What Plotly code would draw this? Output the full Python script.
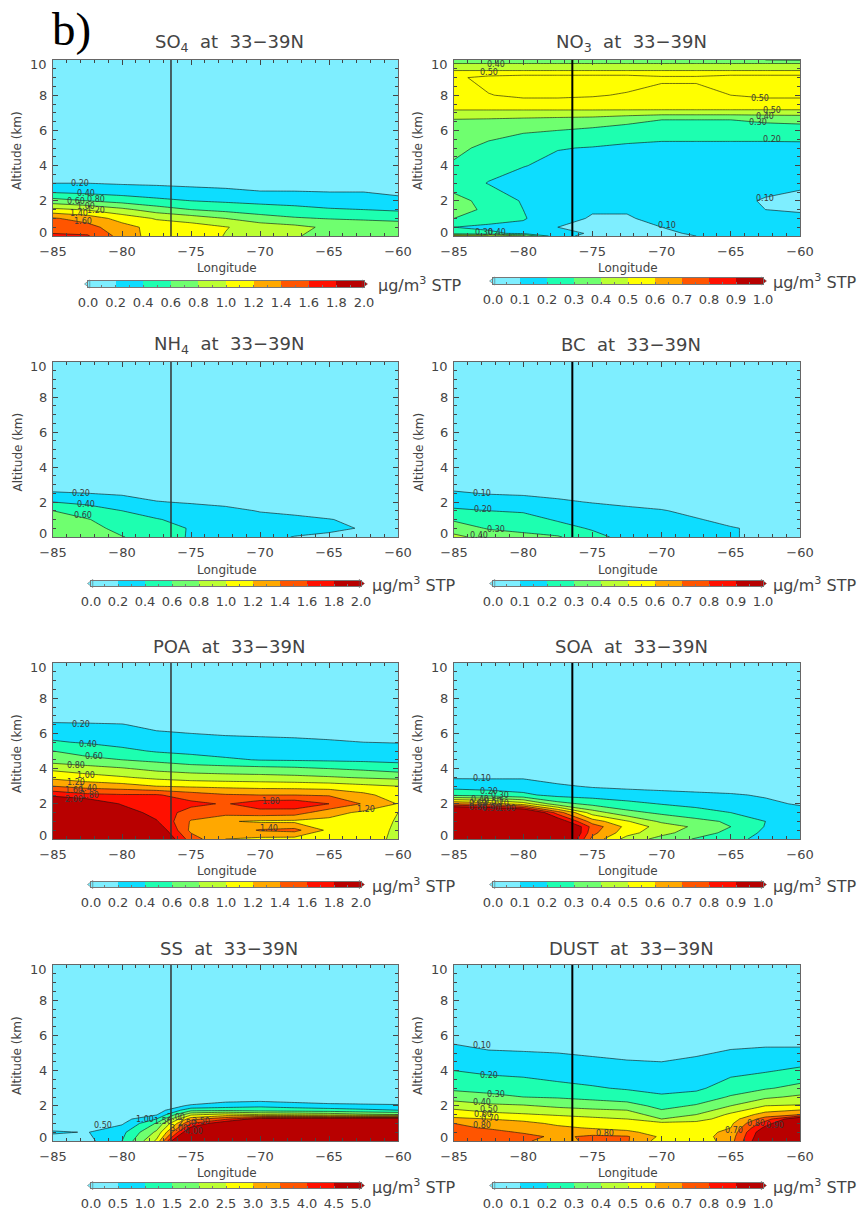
import plotly.graph_objects as go

W, H = 861, 1215
LON = [-85, -82.5, -80, -77.5, -75, -72.5, -70, -67.5, -65, -62.5, -60]
LON_MARK = [-76.45, -76.45]
ALT_MARK = [0, 10]
COLORS = ["#7EEEFF", "#0DDDFF", "#1DFFB0", "#6FFF6F", "#BBFF33", "#FFFF00",
          "#FFA800", "#FF5500", "#FF1000", "#B80000"]
SPECIES = ["SO<sub>4</sub>", "NO<sub>3</sub>", "NH<sub>4</sub>", "BC", "POA", "SOA", "SS", "DUST"]
MAXES = [2.0, 1.0, 2.0, 1.0, 2.0, 1.0, 5.0, 1.0]

SO4_Z = [0, .5, 1, 1.5, 2, 2.5, 3, 3.5, 4, 10]
SO4 = [
 [1.64, 1.62, 1.32, 1.10, 1.12, .99, .91, .81, .76, .72, .68],
 [1.50, 1.47, 1.28, 1.12, 1.10, 1.01, .92, .86, .76, .73, .70],
 [1.42, 1.32, 1.12, .98, .90, .80, .68, .62, .59, .57, .55],
 [1.05, .98, .85, .70, .60, .54, .50, .47, .42, .40, .37],
 [.68, .60, .52, .45, .40, .37, .34, .31, .29, .27, .24],
 [.38, .35, .32, .29, .27, .25, .21, .21, .20, .20, .17],
 [.20, .20, .18, .17, .15, .13, .12, .11, .10, .08, .07],
 [.08, .08, .07, .06, .05, .05, .04, .04, .03, .03, .02],
 [.02, .02, .02, .02, .02, .01, .01, .01, .01, .01, .01],
 [0, 0, 0, 0, 0, 0, 0, 0, 0, 0, 0],
]
SO4_LABELS = [(-83.07, 2.96, "0.20"), (-82.6, 2.43, "0.40"), (-81.9, 2.1, "0.80"), (-83.3, 1.95, "0.60"),
              (-82.6, 1.67, "1.00"), (-81.9, 1.44, "1.20"), (-83.1, 1.29, "1.40"), (-82.8, .82, "1.60")]

NO3_Z = [0, .15, .5, 1, 1.5, 2, 3, 4, 5, 6, 6.6, 7, 7.2, 8, 9, 9.4, 9.8, 10]
NO3 = [
 [.55, .50, .42, .12, .08, .08, .09, .10, .12, .12, .12],
 [.25, .22, .18, .13, .09, .08, .085, .11, .12, .12, .12],
 [.20, .18, .17, .10, .085, .085, .10, .12, .12, .12, .12],
 [.30, .24, .21, .12, .095, .095, .115, .13, .125, .115, .11],
 [.34, .28, .20, .13, .105, .105, .12, .13, .115, .10, .095],
 [.33, .27, .19, .14, .125, .12, .125, .125, .115, .095, .085],
 [.26, .195, .15, .14, .135, .13, .13, .13, .13, .12, .11],
 [.29, .24, .205, .17, .15, .14, .14, .14, .14, .14, .14],
 [.32, .28, .25, .205, .195, .18, .17, .17, .17, .17, .17],
 [.36, .33, .31, .30, .28, .26, .25, .25, .25, .25, .255],
 [.395, .39, .38, .37, .36, .33, .30, .30, .30, .32, .33],
 [.46, .46, .46, .46, .46, .45, .44, .44, .44, .44, .44],
 [.51, .51, .51, .51, .51, .51, .51, .51, .51, .51, .51],
 [.535, .548, .56, .56, .555, .545, .53, .53, .55, .56, .56],
 [.54, .565, .575, .575, .575, .575, .56, .56, .575, .575, .575],
 [.50, .50, .50, .50, .50, .50, .50, .50, .50, .50, .50],
 [.40, .40, .40, .40, .40, .40, .40, .40, .40, .40, .40],
 [.34, .34, .34, .34, .34, .34, .34, .33, .32, .30, .29],
]
NO3_EXTRA_LEVEL = .55
NO3_LABELS = [(-82, 9.73, "0.40"), (-82.5, 9.3, "0.50"), (-62.9, 7.8, "0.50"), (-62, 7.13, "0.50"),
              (-62.5, 6.8, "0.40"), (-63, 6.45, "0.30"), (-62, 5.47, "0.20"), (-62.5, 2.14, "0.10"),
              (-69.6, .57, "0.10"), (-82.8, .2, "0.30"), (-81.9, .2, "0.40")]

NH4_Z = [0, .5, 1, 1.5, 2, 2.5, 3, 4, 10]
NH4 = [
 [.68, .66, .61, .50, .38, .30, .24, .195, .17, .15, .13],
 [.72, .68, .53, .46, .39, .31, .27, .25, .23, .19, .15],
 [.68, .61, .50, .41, .35, .30, .26, .23, .205, .17, .13],
 [.60, .50, .40, .33, .29, .25, .19, .17, .14, .11, .09],
 [.40, .35, .30, .21, .18, .15, .12, .10, .08, .06, .05],
 [.22, .20, .17, .12, .10, .08, .06, .05, .04, .03, .02],
 [.10, .09, .08, .06, .05, .04, .03, .02, .02, .01, .01],
 [.03, .03, .02, .02, .01, .01, .01, .01, .01, .01, .01],
 [0, 0, 0, 0, 0, 0, 0, 0, 0, 0, 0],
]
NH4_LABELS = [(-83, 2.5, "0.20"), (-82.6, 1.84, "0.40"), (-82.8, 1.21, "0.60")]

BC_Z = [0, .5, 1, 1.5, 2, 2.5, 3, 4, 10]
BC = [
 [.42, .37, .34, .31, .23, .17, .15, .13, .105, .085, .07],
 [.36, .29, .26, .235, .19, .16, .14, .125, .105, .085, .07],
 [.285, .26, .235, .19, .165, .14, .125, .105, .08, .06, .05],
 [.22, .20, .19, .16, .14, .12, .105, .08, .06, .045, .035],
 [.15, .14, .13, .115, .095, .08, .07, .05, .035, .03, .02],
 [.11, .095, .09, .075, .06, .05, .04, .03, .02, .015, .01],
 [.07, .05, .04, .03, .03, .02, .02, .01, .01, .01, .01],
 [.02, .02, .01, .01, .01, .01, .01, .01, 0, 0, 0],
 [0, 0, 0, 0, 0, 0, 0, 0, 0, 0, 0],
]
BC_LABELS = [(-83, 2.47, "0.10"), (-82.9, 1.56, "0.20"), (-82, .42, "0.30"), (-83.2, .08, "0.40")]

POA_Z = [0, .5, 1, 1.5, 2, 2.5, 3, 3.5, 4, 4.5, 5, 5.5, 6, 6.5, 7, 10]
POA = [
 [2.3, 2.3, 2.2, 2.15, 1.5, 1.2, 1.15, 1.13, 1.12, 1.1, .95],
 [2.3, 2.3, 2.2, 2.0, 1.35, 1.25, 1.42, 1.46, 1.15, 1.12, .96],
 [2.3, 2.25, 2.1, 1.82, 1.38, 1.22, 1.17, 1.16, 1.15, 1.12, .98],
 [2.25, 2.1, 1.92, 1.72, 1.52, 1.48, 1.52, 1.5, 1.27, 1.16, 1.0],
 [2.1, 2.0, 1.78, 1.7, 1.65, 1.58, 1.72, 1.74, 1.6, 1.38, 1.19],
 [1.75, 1.65, 1.62, 1.62, 1.5, 1.42, 1.4, 1.4, 1.38, 1.25, 1.1],
 [1.4, 1.32, 1.28, 1.2, 1.17, 1.15, 1.13, 1.12, 1.1, 1.05, 1.0],
 [1.15, 1.08, 1.02, .95, .9, .88, .87, .85, .82, .78, .75],
 [.95, .88, .82, .74, .70, .68, .66, .64, .60, .56, .50],
 [.70, .65, .60, .55, .48, .43, .39, .38, .37, .36, .35],
 [.60, .52, .45, .38, .35, .32, .31, .31, .31, .30, .29],
 [.42, .38, .33, .30, .27, .26, .25, .24, .22, .20, .19],
 [.33, .31, .28, .23, .20, .18, .17, .16, .15, .14, .13],
 [.23, .22, .21, .13, .10, .09, .08, .07, .06, .06, .05],
 [.10, .10, .08, .05, .04, .03, .03, .02, .02, .02, .02],
 [0, 0, 0, 0, 0, 0, 0, 0, 0, 0, 0],
]
POA_LABELS = [(-83, 6.53, "0.20"), (-82.5, 5.39, "0.40"), (-82.05, 4.69, "0.60"), (-83.3, 4.16, "0.80"),
              (-82.6, 3.59, "1.00"), (-83.3, 3.2, "1.20"), (-82.5, 2.88, "1.40"), (-83.5, 2.73, "1.60"),
              (-82.3, 2.5, "1.80"), (-83.5, 2.25, "2.00"), (-69.2, 2.13, "1.80"), (-69.35, .57, "1.40"),
              (-62.3, 1.65, "1.20")]

SOA_Z = [0, .35, .7, 1, 1.5, 2, 2.5, 3, 3.5, 4, 10]
SOA = [
 [1.5, 1.5, 1.45, 1.2, .67, .46, .365, .29, .22, .18, .17],
 [1.5, 1.5, 1.5, 1.25, .73, .54, .43, .35, .27, .18, .165],
 [1.5, 1.5, 1.5, 1.2, .76, .57, .46, .38, .30, .195, .16],
 [1.45, 1.45, 1.4, 1.0, .65, .51, .38, .33, .285, .20, .15],
 [1.3, 1.25, 1.15, .75, .45, .33, .28, .24, .20, .17, .14],
 [.70, .65, .55, .34, .27, .23, .195, .17, .14, .12, .09],
 [.28, .26, .22, .17, .16, .14, .13, .12, .11, .09, .07],
 [.16, .15, .15, .115, .09, .08, .07, .06, .05, .04, .03],
 [.09, .09, .09, .06, .05, .04, .03, .03, .02, .02, .01],
 [.03, .03, .03, .02, .02, .01, .01, .01, .01, .01, 0],
 [0, 0, 0, 0, 0, 0, 0, 0, 0, 0, 0],
]
SOA_LABELS = [(-83, 3.42, "0.10"), (-82.5, 2.7, "0.20"), (-81.7, 2.47, "0.30"), (-83.1, 2.22, "0.40"),
              (-82.2, 2.13, "0.50"), (-83.3, 2.03, "0.60"), (-81.7, 2.03, "0.70"), (-83.3, 1.8, "0.80"),
              (-82.3, 1.75, "0.90"), (-81.2, 1.75, "1.00")]

SS_Z = [0, .5, 1, 1.25, 1.5, 1.75, 2, 2.25, 2.5, 3, 10]
SS = [
 [.30, .35, 1.0, 2.6, 7.0, 8.0, 8.0, 8.0, 8.0, 8.0, 8.0],
 [.55, .48, .85, 2.1, 5.2, 8.0, 8.0, 8.0, 8.0, 8.0, 8.0],
 [.20, .20, .43, 1.55, 4.0, 5.0, 6.5, 7.0, 7.0, 7.0, 7.0],
 [.10, .15, .30, 1.0, 3.3, 3.9, 4.8, 4.9, 4.9, 5.0, 5.0],
 [.05, .08, .20, .45, 2.4, 2.7, 2.5, 2.4, 2.3, 2.1, 2.0],
 [.02, .05, .10, .20, 1.35, 1.4, 1.3, 1.25, 1.2, 1.1, 1.0],
 [.01, .02, .05, .10, .60, .75, .90, .80, .70, .66, .62],
 [0, .01, .02, .05, .20, .45, .50, .40, .30, .25, .20],
 [0, 0, .01, .02, .05, .10, .10, .08, .06, .05, .04],
 [0, 0, 0, 0, .01, .01, .01, .01, .01, .01, .01],
 [0, 0, 0, 0, 0, 0, 0, 0, 0, 0, 0],
]
SS_LABELS = [(-81.4, .89, "0.50"), (-78.3, 1.23, "1.00"), (-77, 1.08, "1.50"), (-76.1, 1.35, "2.00"),
             (-75.3, 1.0, "2.50"), (-75.9, .7, "3.00"), (-74.3, 1.1, "3.50"), (-74.8, .55, "4.00")]

DUST_Z = [0, .25, .5, .75, 1, 1.25, 1.5, 2, 2.5, 3, 4, 5, 6, 10]
DUST = [
 [.72, .74, .71, .67, .72, .71, .55, .52, .66, 1.05, 1.15],
 [.77, .76, .73, .68, .72, .71, .58, .55, .65, 1.02, 1.15],
 [.75, .73, .69, .65, .65, .62, .56, .55, .63, 1.0, 1.15],
 [.72, .69, .67, .62, .59, .57, .54, .54, .60, .93, 1.12],
 [.70, .66, .63, .58, .55, .53, .53, .53, .58, .85, 1.10],
 [.62, .60, .57, .54, .52, .50, .40, .46, .55, .75, 1.02],
 [.56, .53, .51, .49, .47, .46, .34, .40, .52, .64, .70],
 [.46, .42, .41, .38, .36, .34, .27, .31, .40, .50, .51],
 [.35, .33, .30, .29, .27, .25, .21, .24, .31, .38, .42],
 [.28, .26, .25, .23, .21, .19, .18, .18, .25, .29, .33],
 [.20, .18, .17, .15, .14, .13, .13, .14, .17, .19, .22],
 [.13, .11, .105, .10, .09, .08, .07, .09, .11, .12, .12],
 [.07, .05, .05, .04, .04, .03, .03, .05, .06, .06, .06],
 [0, 0, 0, 0, 0, 0, 0, 0, 0, 0, 0],
]
DUST_LABELS = [(-83, 5.41, "0.10"), (-82.5, 3.74, "0.20"), (-82, 2.66, "0.30"), (-83, 2.16, "0.40"),
               (-82.5, 1.78, "0.50"), (-82.9, 1.5, "0.60"), (-82.4, 1.27, "0.70"), (-83, .89, "0.80"),
               (-74.1, .42, "0.80"), (-64.8, .6, "0.70"), (-63.2, 1.0, "0.80"), (-61.8, .9, "0.90")]

ALTS = [SO4_Z, NO3_Z, NH4_Z, BC_Z, POA_Z, SOA_Z, SS_Z, DUST_Z]
FIELDS = [SO4, NO3, NH4, BC, POA, SOA, SS, DUST]
LABELS = [SO4_LABELS, NO3_LABELS, NH4_LABELS, BC_LABELS, POA_LABELS, SOA_LABELS, SS_LABELS, DUST_LABELS]

# page-pixel layout
ROW_TOPS = [(60, 236), (362, 537), (663, 839), (965, 1141)]
COL_X = [(53, 398), (454, 800)]
CBAR_Y = [[(281, 287), (278, 284)], [(581, 586), (581, 586)],
          [(882, 887), (882, 887)], [(1183, 1188), (1183, 1188)]]
CBAR_X = [[(88, 364), (493, 763)], [(91, 361), (493, 763)],
          [(91, 361), (493, 763)], [(91, 361), (493, 763)]]
TXT = "#444444"
FONT = "DejaVu Sans"


def px(x): return x / W
def py(y): return 1 - y / H


fig = go.Figure()
annotations = []


def note(text, x, y, size, xanchor="center", yanchor="middle", angle=0, color=TXT, family=FONT):
    annotations.append(dict(text=text, x=px(x), y=py(y), xref="paper", yref="paper", showarrow=False,
                            xanchor=xanchor, yanchor=yanchor, textangle=angle,
                            font=dict(size=size, color=color, family=family), borderpad=0, borderwidth=0))


for i, name in enumerate(SPECIES):
    row, col = i // 2, i % 2
    (yt, yb), (xl, xr) = ROW_TOPS[row], COL_X[col]
    vmax = MAXES[i]
    step = vmax / 10
    xa, ya = f"x{2*i+1}", f"y{2*i+1}"
    cxa, cya = f"x{2*i+2}", f"y{2*i+2}"
    scale = [[k / 9, c] for k, c in enumerate(COLORS)]
    fig.add_trace(go.Contour(
        x=LON, y=ALTS[i], z=FIELDS[i], xaxis=xa, yaxis=ya, showscale=False, colorscale=scale,
        autocontour=False, hoverinfo="skip",
        contours=dict(start=step, end=vmax - step, size=step, coloring="fill", showlabels=False),
        line=dict(color="#111111", width=0.6, smoothing=0),
    ))
    if name.startswith("NO"):
        fig.add_trace(go.Contour(
            x=LON, y=ALTS[i], z=FIELDS[i], xaxis=xa, yaxis=ya, showscale=False, autocontour=False,
            hoverinfo="skip", colorscale=[[0, "#111111"], [1, "#111111"]],
            contours=dict(start=NO3_EXTRA_LEVEL, end=NO3_EXTRA_LEVEL, size=.1, coloring="none"),
            line=dict(color="#111111", width=0.6, smoothing=0),
        ))
    fig.add_trace(go.Scatter(x=LON_MARK, y=ALT_MARK, xaxis=xa, yaxis=ya, mode="lines", showlegend=False,
                             line=dict(color="#333333" if col == 0 else "#000000", width=1.5 if col == 0 else 2)))
    axis_common = dict(showgrid=False, zeroline=False, showline=True, linecolor="#666666", linewidth=1,
                       mirror="ticks", ticks="inside", tickcolor="#444444", ticklen=5, tickwidth=1,
                       tickfont=dict(size=13, color=TXT, family=FONT))
    fig.update_layout({
        f"xaxis{2*i+1}": dict(axis_common, domain=[px(xl), px(xr)], anchor=f"y{2*i+1}", range=[-85, -60],
                              tickvals=[-85, -80, -75, -70, -65, -60],
                              minor=dict(ticks="inside", dtick=1, ticklen=3, tickcolor="#444444"),
                              ticklabelstandoff=3),
        f"yaxis{2*i+1}": dict(axis_common, domain=[py(yb), py(yt)], anchor=f"x{2*i+1}", range=[0, 10],
                              tickvals=[2, 4, 6, 8],
                              minor=dict(ticks="inside", dtick=.5, ticklen=3, tickcolor="#444444"),
                              ticklabelstandoff=2),
    })
    # colour bar, drawn as its own small heatmap
    (cyt, cyb), (cxl, cxr) = CBAR_Y[row][col], CBAR_X[row][col]
    edges = [k * step for k in range(11)]
    fig.add_trace(go.Heatmap(x=edges, y=[0, 1], z=[list(range(10))], xaxis=cxa, yaxis=cya, showscale=False,
                             zmin=0, zmax=9, hoverinfo="skip",
                             colorscale=[[k / 9, COLORS[k]] for k in range(10)]))
    fig.add_trace(go.Scatter(x=[0, vmax], y=[.5, .5], xaxis=cxa, yaxis=cya, mode="markers", cliponaxis=False,
                             showlegend=False, hoverinfo="skip",
                             marker=dict(symbol=["triangle-left", "triangle-right"], size=7,
                                         color=[COLORS[0], COLORS[9]], line=dict(color="#555555", width=.5))))
    fig.update_layout({
        f"xaxis{2*i+2}": dict(domain=[px(cxl), px(cxr)], anchor=f"y{2*i+2}", range=[0, vmax],
                              tickvals=edges, ticktext=[f"{e:.1f}" for e in edges], showgrid=False, zeroline=False,
                              ticks="inside", ticklen=0, showline=True, linecolor="#777777", mirror=True,
                              minor=dict(ticks="inside", dtick=step / 2, ticklen=2, tickcolor="#777777"),
                              tickfont=dict(size=13, color=TXT, family=FONT), ticklabelstandoff=3),
        f"yaxis{2*i+2}": dict(domain=[py(cyb), py(cyt)], anchor=f"x{2*i+2}", range=[0, 1], showticklabels=False,
                              ticks="", showgrid=False, zeroline=False, showline=True, linecolor="#777777", mirror=True),
    })
    cx = (xl + xr) / 2
    note(f"{name}&nbsp; at&nbsp; 33−39N", cx + 4, yt - 17, 18)
    note("Longitude", cx + 1, yt + 208, 12)
    note("Altitude (km)", xl - 36, (yt + yb) / 2 + 3, 12, angle=-90)
    note("10", xl - 6, yt + 4, 13, xanchor="right")
    note("0", xl - 6, yb - 4, 13, xanchor="right")
    note("μg/m<sup>3</sup> STP", (378 if row == 0 else 372) if col == 0 else 773, cyt + 3, 16, xanchor="left")
    for lon, alt, txt in LABELS[i]:
        annotations.append(dict(text=txt, x=lon, y=alt, xref=xa, yref=ya, showarrow=False,
                                font=dict(size=8, color="#3a3a3a", family=FONT)))

note("b)", 52, 29, 47, xanchor="left", color="#000000", family="Liberation Serif")

fig.update_layout(width=W, height=H, autosize=False,
                  margin=dict(l=0, r=0, t=0, b=0, pad=0, autoexpand=False),
                  paper_bgcolor="white", plot_bgcolor="white", showlegend=False,
                  annotations=annotations)
fig.write_html("out.html", post_script="document.body.style.margin='0';",
               config=dict(displayModeBar=False))
